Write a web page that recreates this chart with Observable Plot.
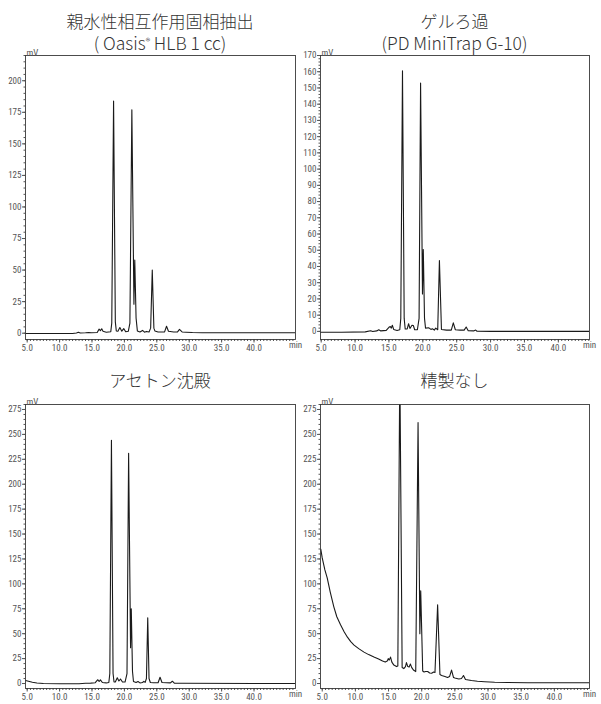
<!DOCTYPE html>
<html><head><meta charset="utf-8">
<script src="https://cdn.jsdelivr.net/npm/d3@7"></script>
<script src="https://cdn.jsdelivr.net/npm/@observablehq/plot@0.6"></script>
<style>
body{margin:0;background:#fff;width:601px;height:704px;position:relative;overflow:hidden;font-family:"Noto Sans CJK JP","Noto Sans",sans-serif}
.panel{position:absolute}
.title{position:absolute;text-align:center;color:#333;white-space:nowrap;font-weight:300}
.l1{font-size:17px;line-height:22px;height:22px}
.l2{font-size:17.5px;line-height:22px;height:22px}
sup{font-size:0.55em;vertical-align:0.55em;line-height:0}
</style></head><body>
<script>
// ---- tick labels ----
const xMajor = [5, 10, 15, 20, 25, 30, 35, 40];
const yTicks1 = [0, 25, 50, 75, 100, 125, 150, 175, 200];
const yTicks2 = [0, 10, 20, 30, 40, 50, 60, 70, 80, 90, 100, 110, 120, 130, 140, 150, 160, 170];
const yTicks34 = [0, 25, 50, 75, 100, 125, 150, 175, 200, 225, 250, 275];

// ---- panel titles ----
const titles = [
  ["親水性相互作用固相抽出", "( Oasis<sup>®</sup> HLB 1 cc)"],
  ["ゲルろ過", "(PD MiniTrap G-10)"],
  ["アセトン沈殿"],
  ["精製なし"]
];

// ---- series: retention time (min) and signal (mV) ----
const time1 = [4.74, 8.0, 12.0, 12.6, 12.9, 13.2, 14.0, 14.5, 14.9, 15.8, 16.1, 16.3, 16.5, 16.7, 17.2, 17.9, 18.05, 18.33, 18.6, 18.75, 19.0, 19.3, 19.6, 19.9, 20.2, 20.6, 20.85, 21.15, 21.47, 21.6, 21.8, 22.0, 22.4, 22.8, 23.1, 23.4, 23.8, 24.05, 24.3, 24.55, 24.7, 25.2, 26.2, 26.5, 26.8, 27.6, 28.2, 28.5, 28.9, 29.5, 30.5, 32.0, 46.4];
const mv1   = [-0.3, -0.3, -0.2, 0.2, 0.8, 0.2, 0.3, 0.6, 0.3, 0.6, 3.2, 2.0, 3.5, 1.5, 0.8, 1.2, 8, 184, 9, 1.8, 1.5, 4.5, 1.6, 3.6, 1.2, 1.5, 8, 177, 23, 58, 12, 1.8, 1.0, 2.2, 0.8, 1.4, 1.0, 4, 50, 4, 1.8, 1.0, 1.0, 5.5, 1.5, 1.0, 1.0, 3.0, 1.0, 0.8, 0.5, 0.4, 0.3];

const time2 = [4.9, 8.0, 11.5, 12.3, 12.6, 13.2, 13.5, 13.8, 14.6, 15.0, 15.2, 15.35, 15.5, 15.7, 16.2, 16.6, 16.75, 17.0, 17.25, 17.4, 17.7, 17.9, 18.1, 18.4, 18.6, 18.8, 19.2, 19.45, 19.67, 19.95, 20.07, 20.25, 20.4, 20.9, 21.2, 21.4, 21.7, 21.9, 22.2, 22.45, 22.75, 23.5, 24.2, 24.5, 24.8, 25.5, 26.1, 26.4, 26.7, 27.5, 27.8, 28.0, 30.0, 44.6];
const mv2   = [-0.5, -0.5, -0.3, 0.4, -0.1, 0.3, 1.0, 0.3, 0.6, 2.5, 3.0, 2.0, 3.8, 1.2, 0.6, 1.0, 8, 160.5, 8, 1.5, 1.5, 4.7, 1.8, 3.8, 3.6, 1.0, 1.0, 8, 153, 23, 50.5, 8, 2.0, 2.2, 1.2, 1.6, 0.8, 2.0, 1.0, 43.7, 1.2, 0.8, 0.8, 5.3, 1.0, 0.8, 0.8, 2.7, 0.4, 0.3, 0.8, 0.1, 0.0, 0.0];

const time3 = [4.74, 5.2, 5.8, 6.5, 7.5, 10.0, 13.0, 14.0, 14.8, 15.5, 15.9, 16.1, 16.3, 16.6, 17.2, 17.6, 17.75, 18.0, 18.25, 18.4, 18.6, 18.9, 19.15, 19.4, 19.7, 20.1, 20.4, 20.65, 20.95, 21.06, 21.25, 21.4, 21.8, 22.1, 22.4, 22.8, 23.0, 23.2, 23.4, 23.6, 23.8, 24.0, 24.5, 25.2, 25.5, 25.8, 26.5, 27.1, 27.4, 27.7, 29.0, 46.4];
const mv3   = [3.0, 2.2, 1.2, 0.5, 0.0, -0.3, -0.2, 0.3, 0.4, 0.8, 3.8, 2.0, 3.7, 1.0, 0.6, 1.0, 10, 244, 10, 1.5, 1.5, 5.7, 2.5, 4.5, 1.5, 1.5, 10, 231, 36, 75, 12, 2.0, 1.0, 2.0, 0.6, 1.0, 2.2, 1.2, 5, 66, 5, 1.0, 0.8, 0.8, 6.3, 1.0, 0.8, 0.6, 2.3, 0.3, 0.2, 0.0];

const time4 = [4.78, 5.0, 5.4, 5.75, 6.2, 6.75, 7.2, 7.76, 8.3, 8.8, 9.3, 9.8, 10.5, 11.3, 12.0, 12.8, 13.5, 14.1, 14.5, 14.8, 14.95, 15.1, 15.3, 15.5, 15.8, 16.2, 16.4, 16.7, 17.05, 17.3, 17.55, 17.7, 17.9, 18.1, 18.3, 18.5, 18.75, 19.1, 19.45, 19.72, 19.85, 20.15, 20.35, 20.6, 20.9, 21.2, 21.5, 21.8, 22.0, 22.4, 22.75, 23.0, 23.5, 23.9, 24.2, 24.5, 24.8, 25.0, 25.6, 26.0, 26.3, 26.6, 27.5, 28.4, 29.5, 31.0, 33.0, 36.0, 45.3];
const mv4   = [135, 126, 114, 106, 92, 77, 67, 59, 52, 46.5, 42, 38.5, 35, 31.5, 29, 26.5, 24.5, 22.5, 21.5, 22.5, 25, 23.5, 26.5, 21.5, 18.5, 17, 17.5, 320, 16, 15, 17, 21, 17, 16.5, 19.5, 16, 13.5, 12, 262, 50, 93, 12.5, 11.5, 12, 12, 10.5, 10.3, 11.5, 11, 79, 9, 8, 7, 6, 7, 13.5, 6, 5.5, 4.5, 5, 8, 4, 3, 2.3, 1.8, 1.2, 1.0, 0.8, 0.8];

const panels = [
  {left: 0,   top: 0,   width: 300, height: 355, ml: 25, mr: 5,  mt: 55, mb: 16, xd: [4.74, 46.4], yd: [-5, 220], yTicks: yTicks1,  yMinorStep: 5, t: time1, v: mv1, title: titles[0], titleTop: 10},
  {left: 300, top: 0,   width: 301, height: 355, ml: 20, mr: 12, mt: 55, mb: 16, xd: [4.9, 44.6],  yd: [-5, 170], yTicks: yTicks2,  yMinorStep: 2, t: time2, v: mv2, title: titles[1], titleTop: 10},
  {left: 0,   top: 360, width: 300, height: 344, ml: 25, mr: 5,  mt: 44, mb: 16, xd: [4.74, 46.4], yd: [-5, 280], yTicks: yTicks34, yMinorStep: 5, t: time3, v: mv3, title: titles[2], titleTop: 369},
  {left: 300, top: 360, width: 301, height: 344, ml: 20, mr: 12, mt: 44, mb: 16, xd: [4.74, 45.3], yd: [-5, 280], yTicks: yTicks34, yMinorStep: 5, t: time4, v: mv4, title: titles[3], titleTop: 369}
];

const tickFont = '"Liberation Sans Narrow","Roboto Condensed",Roboto,sans-serif';

for (const cfg of panels) {
  const data = cfg.t.map((t, i) => ({t, v: cfg.v[i]}));
  const xMinor = d3.range(5, cfg.xd[1], 0.5);
  const yMinor = d3.range(0, cfg.yd[1] + 0.001, cfg.yMinorStep);
  const chart = Plot.plot({
    width: cfg.width, height: cfg.height,
    marginLeft: cfg.ml, marginRight: cfg.mr, marginTop: cfg.mt, marginBottom: cfg.mb,
    x: {domain: cfg.xd, label: null},
    y: {domain: cfg.yd, label: null},
    style: {fontFamily: tickFont, fontSize: "9px", color: "#555", overflow: "visible", background: "transparent"},
    marks: [
      Plot.axisX({ticks: xMinor, tickSize: 2, fill: "none", label: null}),
      Plot.axisX({ticks: xMajor, tickSize: 3.5, tickPadding: 1.5, tickFormat: d => d.toFixed(1), label: null}),
      Plot.axisY({ticks: yMinor, tickSize: 1.5, fill: "none", label: null}),
      Plot.axisY({ticks: cfg.yTicks, tickSize: 3, tickPadding: 1, label: null}),
      Plot.line(data, {x: "t", y: "v", stroke: "#1a1a1a", strokeWidth: 1.1, clip: true}),
      Plot.frame({stroke: "#3a3a3a", strokeWidth: 0.9}),
      Plot.text(["mV"], {text: d => d, frameAnchor: "top-left", textAnchor: "start", dy: -6, dx: 1}),
      Plot.text(["min"], {text: d => d, frameAnchor: "bottom-right", textAnchor: "middle", dy: 8.5})
    ]
  });
  const wrap = document.createElement("div");
  wrap.className = "panel";
  wrap.style.left = cfg.left + "px";
  wrap.style.top = cfg.top + "px";
  wrap.appendChild(chart);
  document.body.appendChild(wrap);

  const tdiv = document.createElement("div");
  tdiv.className = "title";
  tdiv.style.left = (cfg.left + cfg.ml) + "px";
  tdiv.style.width = (cfg.width - cfg.ml - cfg.mr) + "px";
  tdiv.style.top = cfg.titleTop + "px";
  tdiv.innerHTML = cfg.title.map((s, i) => `<div class="${i === 0 ? "l1" : "l2"}">${s}</div>`).join("");
  document.body.appendChild(tdiv);
}
</script>
</body></html>
